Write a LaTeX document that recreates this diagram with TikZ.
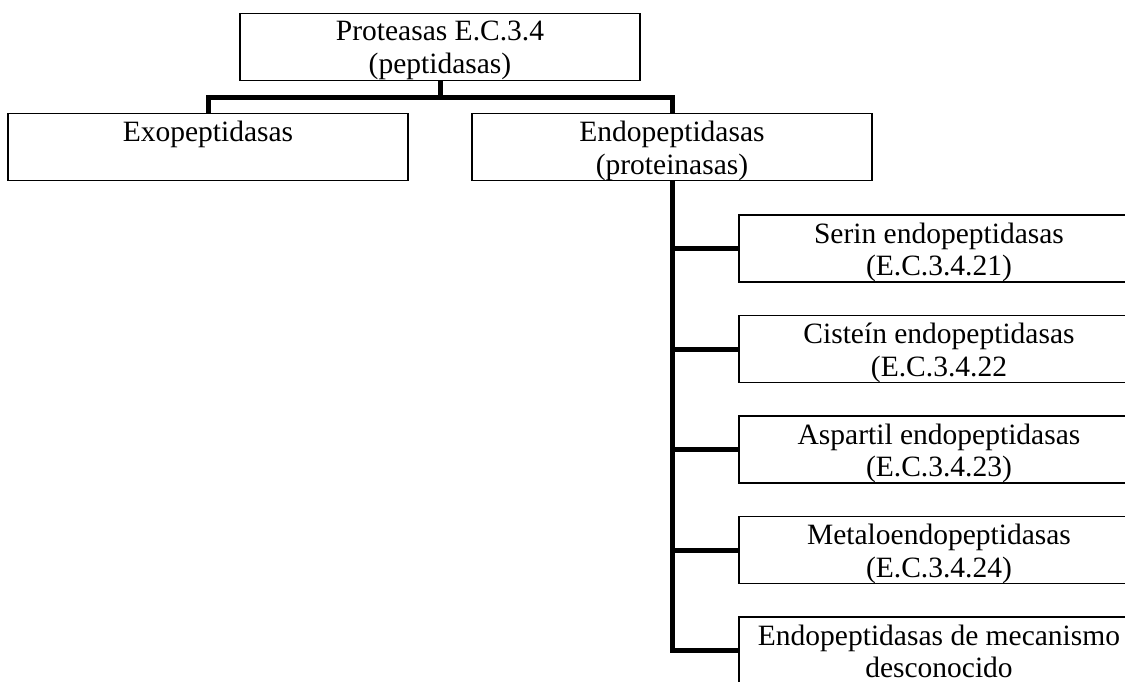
\documentclass[tikz,border=0pt]{standalone}
\usepackage{fontspec}
\setmainfont{Liberation Serif}
\usepackage{tikz}
\usetikzlibrary{positioning}

\begin{document}
\begin{tikzpicture}[
    x=1pt, y=-1pt,
    caja/.style={draw, line width=1.5pt, rectangle, minimum width=400pt, minimum height=67pt, inner sep=0pt, outer sep=0pt},
    rotulo/.style={anchor=north, align=center, inner sep=0pt, font=\fontsize{29.5}{32.5}\selectfont},
    conector/.style={line width=5pt, line join=miter}
]
    \useasboundingbox (0,0) rectangle (1125,681);
    \clip (0,0) rectangle (1125,681);

    % cajas
    \node[caja] (raiz) at (440,47) {};
    \node[caja] (exo) at (208,147) {};
    \node[caja] (endo) at (672,147) {};
    \node[caja] (serin) at (939,248.5) {};
    \node[caja, below=33.5pt of serin] (cistein) {};
    \node[caja, below=33.5pt of cistein] (aspartil) {};
    \node[caja, below=33.5pt of aspartil] (metalo) {};
    \node[caja, below=33.5pt of metalo] (desconocido) {};

    % textos
    \node[rotulo] (t-raiz) at ([yshift=-7.5pt]raiz.north) {Proteasas E.C.3.4\\(peptidasas)};
    \node[rotulo] (t-exo) at ([yshift=-7.5pt]exo.north) {Exopeptidasas};
    \node[rotulo] (t-endo) at ([yshift=-7.5pt]endo.north) {Endopeptidasas\\(proteinasas)};
    \node[rotulo] (t-serin) at ([yshift=-7.5pt]serin.north) {Serin endopeptidasas\\(E.C.3.4.21)};
    \node[rotulo] (t-cistein) at ([yshift=-7.5pt]cistein.north) {Cisteín endopeptidasas\\(E.C.3.4.22};
    \node[rotulo] (t-aspartil) at ([yshift=-7.5pt]aspartil.north) {Aspartil endopeptidasas\\(E.C.3.4.23)};
    \node[rotulo] (t-metalo) at ([yshift=-7.5pt]metalo.north) {Metaloendopeptidasas\\(E.C.3.4.24)};
    \node[rotulo] (t-desconocido) at ([yshift=-7.5pt]desconocido.north) {Endopeptidasas de mecanismo\\desconocido};

    % conectores
    \coordinate (bus) at (raiz.south |- 0,97);
    \draw[conector] (raiz.south) -- (bus);
    \draw[conector] (exo.north) |- (bus) -| (endo.north);
    \draw[conector] (endo.south) |- (desconocido.west);
    \foreach \hijo in {serin, cistein, aspartil, metalo}
        \draw[conector] (endo.south |- \hijo.west) -- (\hijo.west);
\end{tikzpicture}
\end{document}
